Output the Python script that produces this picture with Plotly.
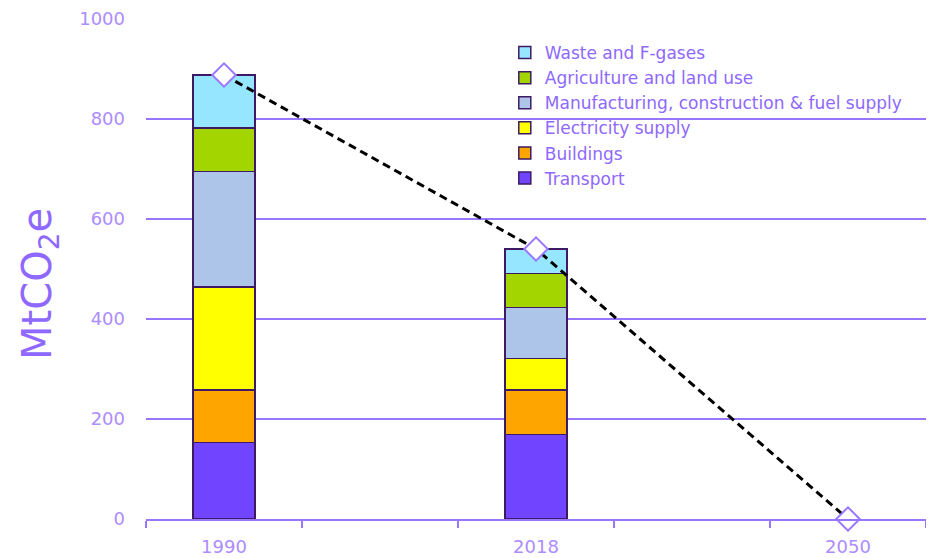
import plotly.graph_objects as go

# ---- data ----
categories = ["1990", "\u200b", "2018", "\u200b\u200b", "2050"]
bar_years = ["1990", "2018"]
sectors = ["Transport", "Buildings", "Electricity supply",
           "Manufacturing, construction & fuel supply",
           "Agriculture and land use", "Waste and F-gases"]
transport = [153, 169]
buildings = [105, 89]
electricity = [206, 63]
manufacturing = [231, 102]
agriculture = [87, 68]
waste = [106, 49]
path_years = ["1990", "2018", "2050"]
path_values = [888, 540, 0]
y_ticks = [0, 200, 400, 600, 800, 1000]
y_title = "MtCO<sub>2</sub>e"

sector_values = [transport, buildings, electricity, manufacturing, agriculture, waste]
colors = ["#7144ff", "#ffa500", "#ffff00", "#adc5e9", "#a3d600", "#97e6ff"]

grid_col = "#9777ff"
tick_col = "#ad8cff"
title_col = "#8e68ff"
font_fam = "'DejaVu Sans', sans-serif"

fig = go.Figure()
for name, vals, col in zip(sectors, sector_values, colors):
    fig.add_trace(go.Bar(
        x=bar_years, y=vals, name=name,
        marker=dict(color=col, line=dict(color="#3d1a63", width=1.5)),
        width=0.4,
    ))

fig.add_trace(go.Scatter(
    x=path_years, y=path_values, mode="lines+markers",
    line=dict(color="black", width=3, dash="8px,5px"),
    marker=dict(symbol="diamond", size=18, color="white",
                line=dict(color="#9a78ff", width=2)),
    showlegend=False, cliponaxis=False,
))

fig.add_annotation(
    text=y_title, textangle=-90, showarrow=False,
    xref="paper", yref="paper", x=-0.136, y=0.47,
    xanchor="center", yanchor="middle",
    font=dict(size=40, color=title_col, family=font_fam),
)

fig.update_layout(
    width=918, height=550,
    barmode="stack",
    paper_bgcolor="white", plot_bgcolor="white",
    margin=dict(l=138, r=0, t=11, b=39),
    font=dict(family=font_fam, color=tick_col, size=16),
    legend=dict(
        x=0.460, y=0.968, xanchor="left", yanchor="top",
        traceorder="reversed", bgcolor="rgba(0,0,0,0)",
        font=dict(size=17, color=title_col),
        itemwidth=30, tracegroupgap=0,
    ),
    xaxis=dict(
        type="category", categoryorder="array", categoryarray=categories,
        range=[-0.5, 4.5], tickson="boundaries", automargin=False,
        showgrid=False, showline=True, linecolor=grid_col, linewidth=2,
        ticks="outside", ticklen=7, tickcolor=grid_col, tickwidth=1.5,
        ticklabelstandoff=10,
        tickfont=dict(size=18, color=tick_col),
    ),
    yaxis=dict(
        range=[0, 1000], tickvals=y_ticks, automargin=False,
        showgrid=True, gridcolor=grid_col, gridwidth=1.5,
        zeroline=False, showline=False,
        ticks="", ticklabelstandoff=20,
        tickfont=dict(size=18, color=tick_col),
    ),
)

fig.write_html("out.html")
